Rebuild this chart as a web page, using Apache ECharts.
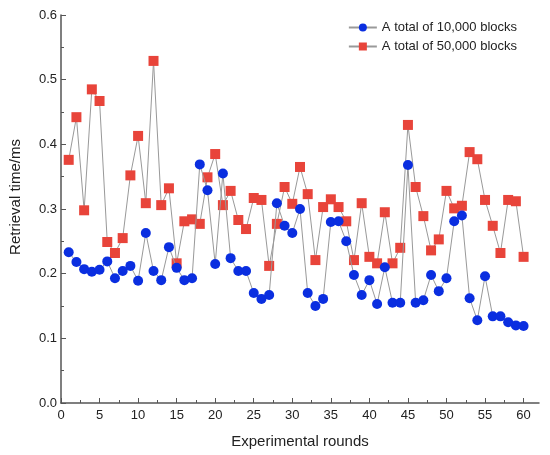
<!DOCTYPE html>
<html>
<head>
<meta charset="utf-8" />
<title>Retrieval time</title>
<script type="text/javascript" src="https://cdn.jsdelivr.net/npm/echarts@6/dist/echarts.min.js"></script>
<style>
    html, body { margin: 0; padding: 0; background: #fff; }
    #container { width: 550px; height: 455px; }
</style>
</head>
<body>
<div id="container"></div>
<script type="text/javascript">
    // rounds 1..60
    var rounds = [];
    for (var r = 1; r <= 60; r++) rounds.push(r);

    var blocks10k = [0.233, 0.218, 0.207, 0.203, 0.206, 0.219, 0.193, 0.204, 0.212, 0.189,
        0.263, 0.204, 0.190, 0.241, 0.209, 0.190, 0.193, 0.369, 0.329, 0.215,
        0.355, 0.224, 0.204, 0.204, 0.170, 0.161, 0.167, 0.309, 0.274, 0.263,
        0.300, 0.170, 0.150, 0.161, 0.280, 0.281, 0.250, 0.198, 0.167, 0.190,
        0.153, 0.210, 0.155, 0.155, 0.368, 0.155, 0.159, 0.198, 0.173, 0.193,
        0.281, 0.290, 0.162, 0.128, 0.196, 0.134, 0.134, 0.125, 0.120, 0.119];

    var blocks50k = [0.376, 0.442, 0.298, 0.485, 0.467, 0.249, 0.232, 0.255, 0.352, 0.413,
        0.309, 0.529, 0.306, 0.332, 0.216, 0.281, 0.284, 0.277, 0.349, 0.385,
        0.306, 0.328, 0.283, 0.269, 0.317, 0.314, 0.212, 0.277, 0.334, 0.308,
        0.365, 0.323, 0.221, 0.303, 0.315, 0.303, 0.281, 0.221, 0.309, 0.226,
        0.216, 0.295, 0.216, 0.240, 0.430, 0.334, 0.289, 0.236, 0.253, 0.328,
        0.301, 0.305, 0.388, 0.377, 0.314, 0.274, 0.232, 0.314, 0.312, 0.226];

    var xMajorTicks = [0, 5, 10, 15, 20, 25, 30, 35, 40, 45, 50, 55, 60];
    var xMinorTicks = [2.5, 7.5, 12.5, 17.5, 22.5, 27.5, 32.5, 37.5, 42.5, 47.5, 52.5, 57.5];

    function pairs(xs, ys) {
        return xs.map(function (x, i) { return [x, ys[i]]; });
    }

    var axisColor = '#555';
    var textColor = '#222';
    var font = 'Liberation Sans, Arial, sans-serif';

    var myChart = echarts.init(document.getElementById('container'), null, { renderer: 'canvas' });
    var option = {
        backgroundColor: '#fff',
        animation: false,
        textStyle: { fontFamily: font },
        grid: { left: 57, right: 11, top: 15, bottom: 52, containLabel: false },
        legend: {
            top: 16,
            right: 28,
            orient: 'vertical',
            itemGap: 6,
            itemWidth: 28,
            itemHeight: 10,
            textStyle: { fontSize: 13, color: textColor, fontFamily: font },
            data: ['A total of 10,000 blocks', 'A total of 50,000 blocks']
        },
        xAxis: [{
            type: 'value',
            min: 0,
            max: 62,
            name: 'Experimental rounds',
            nameLocation: 'middle',
            nameGap: 31,
            nameTextStyle: { fontSize: 15, color: textColor },
            axisLine: { show: true, lineStyle: { color: axisColor, width: 1.5 } },
            axisTick: { show: true, inside: true, length: 5, customValues: xMajorTicks, lineStyle: { color: axisColor } },
            axisLabel: { customValues: xMajorTicks, fontSize: 13, color: textColor, margin: 6 },
            splitLine: { show: false }
        }, {
            type: 'value',
            min: 0,
            max: 62,
            position: 'bottom',
            axisLine: { show: false },
            axisTick: { show: true, inside: true, length: 3, customValues: xMinorTicks, lineStyle: { color: axisColor } },
            axisLabel: { show: false },
            splitLine: { show: false }
        }],
        yAxis: {
            type: 'value',
            min: 0,
            max: 0.6,
            interval: 0.1,
            name: 'Retrieval time/ms',
            nameLocation: 'middle',
            nameGap: 38,
            nameTextStyle: { fontSize: 15, color: textColor, padding: [0, 0, 0, 24] },
            axisLine: { show: true, lineStyle: { color: axisColor, width: 1.5 } },
            axisTick: { show: true, inside: true, length: 5, lineStyle: { color: axisColor } },
            minorTick: { show: true, splitNumber: 2, length: 3, lineStyle: { color: axisColor } },
            axisLabel: {
                fontSize: 13, color: textColor, margin: 4,
                formatter: function (v) { return v.toFixed(1); }
            },
            splitLine: { show: false }
        },
        series: [{
            name: 'A total of 10,000 blocks',
            type: 'line',
            xAxisIndex: 0,
            data: pairs(rounds, blocks10k),
            symbol: 'circle',
            symbolSize: 10,
            lineStyle: { color: '#999', width: 1 },
            itemStyle: { color: '#0a2ee0', borderWidth: 0 },
            z: 3
        }, {
            name: 'A total of 50,000 blocks',
            type: 'line',
            xAxisIndex: 0,
            data: pairs(rounds, blocks50k),
            symbol: 'rect',
            symbolSize: 10,
            lineStyle: { color: '#999', width: 1 },
            itemStyle: { color: '#e8443a', borderWidth: 0 },
            z: 2
        }]
    };
    myChart.setOption(option);
</script>
</body>
</html>
